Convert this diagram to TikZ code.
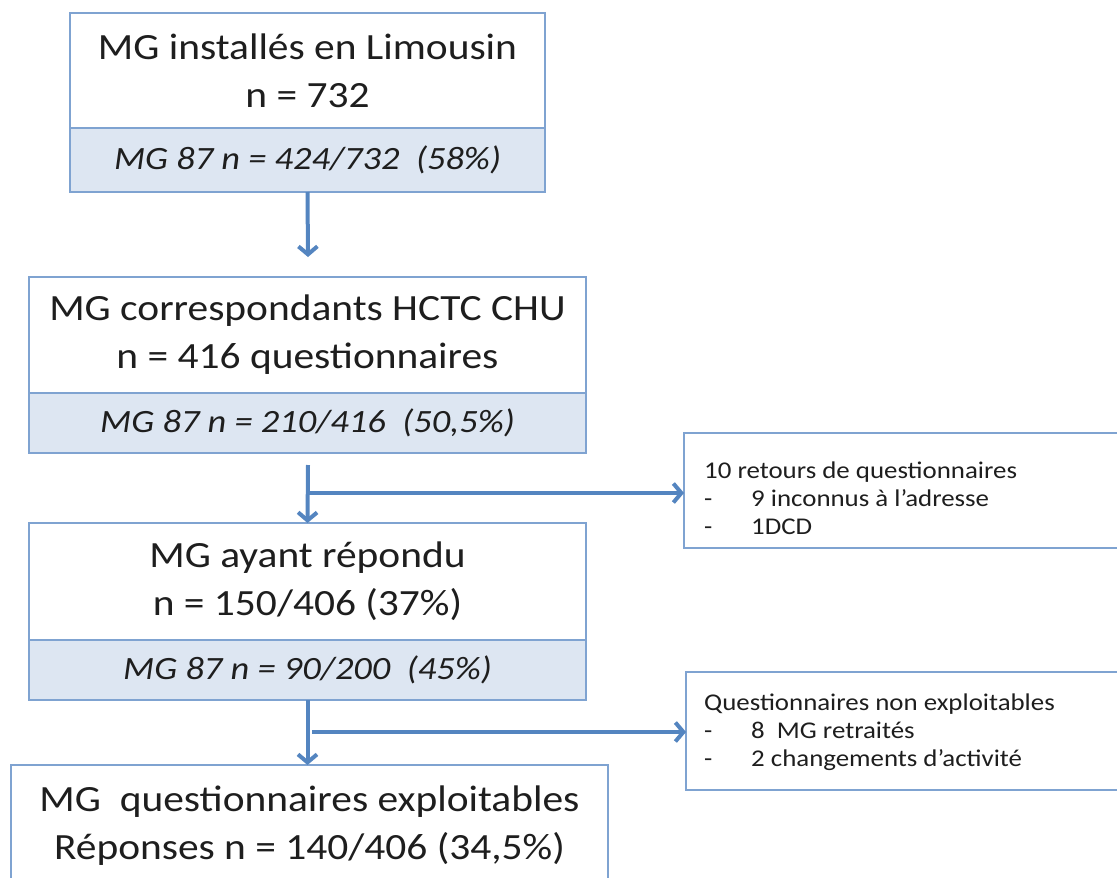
\documentclass[tikz,border=0pt]{standalone}
\usepackage{fontspec}
\setmainfont{Carlito}[FakeStretch=1.12]
\usetikzlibrary{arrows.meta}
\definecolor{arrowblue}{HTML}{5485C0}
\definecolor{boxblue}{HTML}{7FA3D1}
\definecolor{shade}{HTML}{DDE6F2}
\definecolor{ink}{HTML}{1E1E1E}
\begin{document}
\begin{tikzpicture}[x=1pt,y=-1pt,
  box/.style={draw=boxblue, line width=2pt, fill=white, inner sep=0pt, outer sep=0pt, text=ink, align=center, font=\fontsize{37}{48}\selectfont},
  shadebox/.style={box, fill=shade, font=\fontsize{32.5}{40}\selectfont\itshape},
  sidebox/.style={draw=boxblue, line width=2pt, fill=white, inner sep=0pt, outer sep=0pt},
  sidetext/.style={text=ink, align=left, anchor=west, inner sep=0pt, font=\fontsize{24}{28}\selectfont},
  flow/.style={draw=arrowblue, line width=4pt, -{Straight Barb[length=8pt,width=19pt]}}
  ]
\useasboundingbox (0,0) rectangle (1117,878);
\clip (0,0) rectangle (1117,878);
% main column
\node[box, minimum width=475pt, minimum height=115pt] (b1) at (307.5,70.5) {MG installés en Limousin\\n = 732};
\node[shadebox, minimum width=475pt, minimum height=64pt] (b1s) at (307.5,160) {MG 87 n = 424/732\ \ (58\%)};
\node[box, minimum width=557pt, minimum height=116pt] (b2) at (307.5,335) {MG correspondants HCTC CHU\\n = 416 questionnaires};
\node[shadebox, minimum width=557pt, minimum height=60pt] (b2s) at (307.5,423) {MG 87 n = 210/416\ \ (50,5\%)};
\node[box, minimum width=557pt, minimum height=117pt] (b3) at (307.5,581.5) {MG ayant répondu\\n = 150/406 (37\%)};
\node[shadebox, minimum width=557pt, minimum height=60pt] (b3s) at (307.5,670) {MG 87 n = 90/200\ \ (45\%)};
\node[box, minimum width=597pt, minimum height=122pt] (b4) at (309.5,826) {MG\ \ questionnaires exploitables\\Réponses n = 140/406 (34,5\%)};
% side boxes
\node[sidebox, minimum width=446pt, minimum height=115pt] (s1) at (907,490.5) {};
\node[sidetext] (s1t) at (704,498) {10 retours de questionnaires\\\makebox[47pt][l]{-}9 inconnus à l’adresse\\\makebox[47pt][l]{-}1DCD};
\node[sidebox, minimum width=444pt, minimum height=118pt] (s2) at (908,731) {};
\node[sidetext] (s2t) at (704,732) {Questionnaires non exploitables\\\makebox[47pt][l]{-}8\ \ MG retraités\\\makebox[47pt][l]{-}2 changements d’activité};
% connectors
\coordinate (a1e) at (308,257);
\coordinate (a2s) at (308,465);
\coordinate (h1s) at (308,493);
\coordinate (h2s) at (312,732);
\draw[flow] (b1s.south) -- (a1e);
\draw[flow] (a2s) -- (b3.north);
\draw[flow] (h1s) -- (s1.west |- h1s);
\draw[flow] (b3s.south) -- (b3s.south |- b4.north);
\draw[flow] (h2s) -- (s2.west |- h2s);
\end{tikzpicture}
\end{document}
